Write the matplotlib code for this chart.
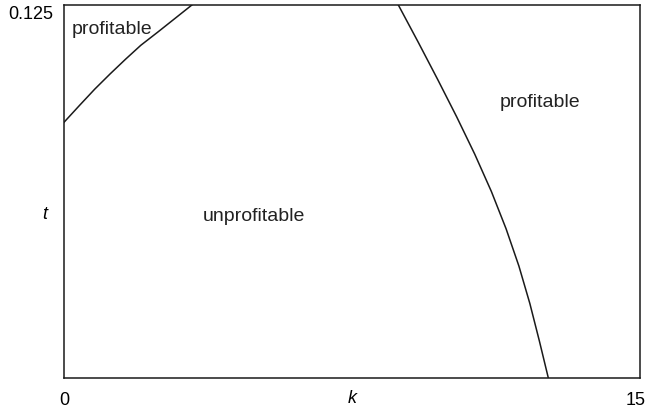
import matplotlib
matplotlib.use('Agg')
import matplotlib.pyplot as plt
from matplotlib.transforms import ScaledTranslation

# boundary curves (k, t)
left_k = [0.0, 0.4, 0.8, 1.2, 1.6, 2.0, 2.45, 2.9, 3.33]
left_t = [0.0857, 0.0913, 0.0968, 0.1019, 0.1068, 0.1115, 0.1160, 0.1206, 0.125]

right_k = [8.706, 9.225, 9.732, 10.226, 10.696, 11.129, 11.512, 11.846, 12.130, 12.377, 12.612]
right_t = [0.125, 0.1125, 0.100, 0.0875, 0.075, 0.0625, 0.050, 0.0375, 0.025, 0.0125, 0.0]

x_ticks = [0, 15]
x_ticklabels = ['0', '15']
y_ticks = [0.125]
y_ticklabels = ['0.125']

#Plot
plt.rcParams['font.family'] = ['Liberation Sans', 'DejaVu Sans']
fig = plt.figure(figsize=(6.48, 4.10), dpi=100)
ax = fig.add_axes([0.0988, 0.0756, 0.8889, 0.9098])

ax.plot(left_k, left_t, color='#1a1a1a', lw=1.1)
ax.plot(right_k, right_t, color='#1a1a1a', lw=1.1)

ax.set_xlim(0, 15)
ax.set_ylim(0, 0.125)
ax.set_xticks(x_ticks)
ax.set_xticklabels(x_ticklabels, fontsize=13)
ax.set_yticks(y_ticks)
ax.set_yticklabels(y_ticklabels, fontsize=13)
ax.tick_params(length=0)
ax.tick_params(axis='x', pad=9)
ax.tick_params(axis='y', pad=8)
for s in ax.spines.values():
    s.set_linewidth(1.1)
    s.set_color('#1a1a1a')

# nudge the end labels so they sit like the original
lab15 = ax.get_xticklabels()[1]
lab15.set_transform(lab15.get_transform() + ScaledTranslation(-3 / 72, 0, fig.dpi_scale_trans))
ax.get_yticklabels()[0].set_va('top')

ax.text(0.5, -0.052, 'k', transform=ax.transAxes, ha='center', va='center',
        fontsize=13, style='italic')
ax.text(-0.033, 0.44, 't', transform=ax.transAxes, ha='center', va='center',
        fontsize=13, style='italic')

ax.text(1.24, 0.117, 'profitable', ha='center', va='center', fontsize=14, color='#222222')
ax.text(12.4, 0.0925, 'profitable', ha='center', va='center', fontsize=14, color='#222222')
ax.text(4.95, 0.0543, 'unprofitable', ha='center', va='center', fontsize=14, color='#222222')

fig.savefig('out.png', dpi=100)
